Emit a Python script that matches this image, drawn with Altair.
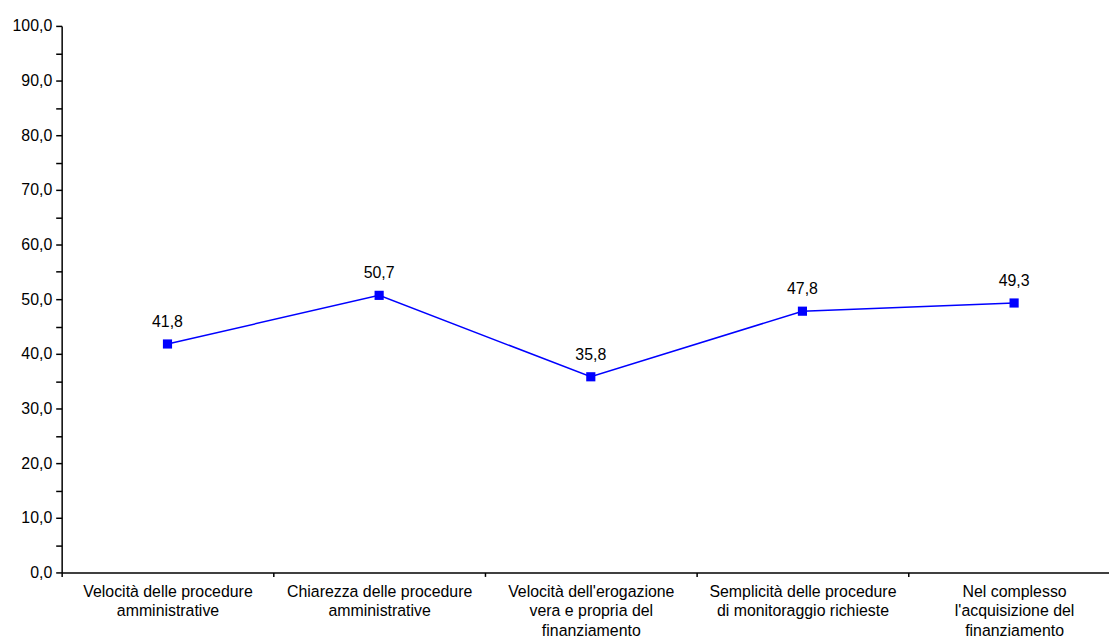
import altair as alt
import pandas as pd

categories = [
    "Velocità delle procedure\namministrative",
    "Chiarezza delle procedure\namministrative",
    "Velocità dell'erogazione\nvera e propria del\nfinanziamento",
    "Semplicità delle procedure\ndi monitoraggio richieste",
    "Nel complesso\nl'acquisizione del\nfinanziamento",
]
values = [41.8, 50.7, 35.8, 47.8, 49.3]
y_ticks = [0, 5, 10, 15, 20, 25, 30, 35, 40, 45, 50, 55, 60, 65, 70, 75, 80, 85, 90, 95, 100]

df = pd.DataFrame({
    "cat": categories,
    "val": values,
    "label": [f"{v:.1f}".replace(".", ",") for v in values],
})

FONT = "Liberation Sans"
BLUE = "#0000FF"

x_enc = alt.X(
    "cat:N",
    sort=categories,
    scale=alt.Scale(type="band", range=[0, 1065], paddingInner=0, paddingOuter=0),
    axis=alt.Axis(
        title=None,
        labelAngle=0,
        labelExpr="isValid(datum.value) ? split(datum.value, '\\n') : ''",
        tickBand="extent",
        labelOverlap=False,
        labelLimit=400,
        labelFontSize=16,
        labelLineHeight=19.5,
        labelPadding=7,
        labelBaseline="top",
        tickSize=4,
        grid=False,
    ),
)
y_enc = alt.Y(
    "val:Q",
    scale=alt.Scale(domain=[0, 100], nice=False, zero=True),
    axis=alt.Axis(
        title=None,
        values=y_ticks,
        labelExpr="datum.value % 10 == 0 ? replace(format(datum.value, '.1f'), '.', ',') : ''",
        tickSize=6,
        labelPadding=4,
        labelFontSize=16,
        grid=False,
    ),
)

base = alt.Chart(df).encode(x=x_enc, y=y_enc)

line = base.mark_line(color=BLUE, strokeWidth=1.5)
pts = base.mark_square(size=85, color=BLUE, opacity=1)
txt = base.mark_text(dy=-17, baseline="alphabetic", fontSize=16, font=FONT, color="black").encode(text="label:N")

chart = (
    alt.layer(line, pts, txt)
    .properties(
        width=1054,
        height=550,
        autosize=alt.AutoSizeParams(type="none"),
        padding={"left": 54, "top": 16, "right": 0, "bottom": 70},
    )
    .configure_view(stroke=None)
    .configure_axis(
        domainColor="black",
        domainWidth=1.5,
        tickColor="black",
        tickWidth=1.5,
        labelColor="black",
        labelFont=FONT,
    )
)

chart.save("out.html", embed_options={"renderer": "svg", "actions": False})
